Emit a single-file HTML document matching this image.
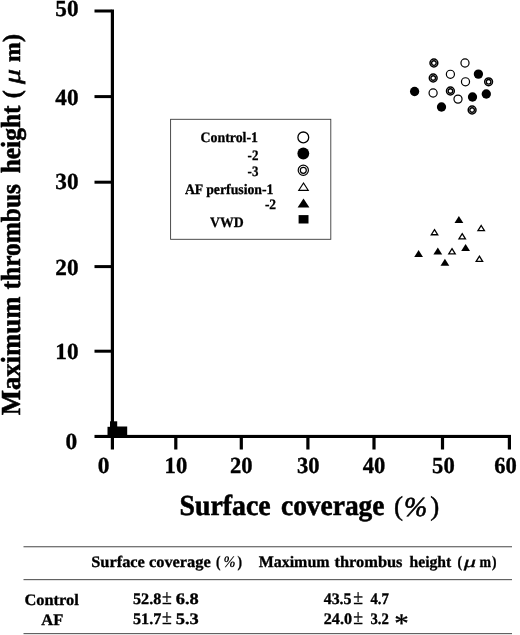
<!DOCTYPE html>
<html lang="en"><head><meta charset="utf-8"><title>Figure</title>
<style>html,body{margin:0;padding:0;background:#fff}body{width:520px;height:635px;overflow:hidden}svg{display:block}text{text-rendering:geometricPrecision}</style>
</head><body>
<svg width="520" height="635" viewBox="0 0 520 635">
<rect width="520" height="635" fill="#fff"/>
<g fill="#000">
<rect x="110.8" y="9.5" width="3.2" height="440"/>
<rect x="94.5" y="434.9" width="416.5" height="3.1"/>
<rect x="94.5" y="9.5" width="17" height="3"/>
<rect x="94.5" y="95.1" width="17" height="3"/>
<rect x="94.5" y="180.7" width="17" height="3"/>
<rect x="94.5" y="265.1" width="17" height="3"/>
<rect x="94.5" y="349.7" width="17" height="3"/>
<rect x="174.2" y="436" width="3.2" height="13.5"/>
<rect x="239.7" y="436" width="3.2" height="13.5"/>
<rect x="306.3" y="436" width="3.2" height="13.5"/>
<rect x="372.4" y="436" width="3.2" height="13.5"/>
<rect x="440.9" y="436" width="3.2" height="13.5"/>
<rect x="507.8" y="436" width="3.2" height="13.5"/>
</g>
<g font-family="'Liberation Serif', serif" font-weight="bold" font-size="23" fill="#000" stroke="#000" stroke-width="0.35">
<text x="55.3" y="16.4" textLength="23.2" lengthAdjust="spacingAndGlyphs">50</text>
<text x="55.3" y="105.2" textLength="23.2" lengthAdjust="spacingAndGlyphs">40</text>
<text x="55.3" y="189.1" textLength="23.2" lengthAdjust="spacingAndGlyphs">30</text>
<text x="55.3" y="275.2" textLength="23.2" lengthAdjust="spacingAndGlyphs">20</text>
<text x="55.3" y="358.7" textLength="23.2" lengthAdjust="spacingAndGlyphs">10</text>
<text x="65.5" y="448.6" textLength="11.7" lengthAdjust="spacingAndGlyphs">0</text>
<text x="164.6" y="473.1" textLength="22.6" lengthAdjust="spacingAndGlyphs">10</text>
<text x="229.9" y="473.1" textLength="22.6" lengthAdjust="spacingAndGlyphs">20</text>
<text x="297.0" y="473.1" textLength="22.6" lengthAdjust="spacingAndGlyphs">30</text>
<text x="362.8" y="473.1" textLength="22.6" lengthAdjust="spacingAndGlyphs">40</text>
<text x="432.1" y="473.1" textLength="22.6" lengthAdjust="spacingAndGlyphs">50</text>
<text x="494.2" y="473.1" textLength="22.6" lengthAdjust="spacingAndGlyphs">60</text>
<text x="97.8" y="473.2" textLength="11.7" lengthAdjust="spacingAndGlyphs">0</text>
</g>
<g font-family="'Liberation Serif', serif" font-weight="bold" fill="#000" stroke="#000" stroke-width="0.55" transform="translate(19.9,0) rotate(-90)">
<text x="-415.3" y="0" font-size="27.5" textLength="118.7" lengthAdjust="spacingAndGlyphs">Maximum</text>
<text x="-289.4" y="0" font-size="27.5" textLength="105.4" lengthAdjust="spacingAndGlyphs">thrombus</text>
<text x="-173.3" y="0" font-size="27.5" textLength="67.8" lengthAdjust="spacingAndGlyphs">height</text>
<text x="-98.3" y="0" font-size="25" textLength="8.0" lengthAdjust="spacingAndGlyphs">(</text>
<text x="-62.0" y="0" font-size="23" textLength="19.7" lengthAdjust="spacingAndGlyphs">m</text>
<text x="-42.0" y="0" font-size="25" textLength="8.0" lengthAdjust="spacingAndGlyphs">)</text>
<text x="-84" y="0" font-size="24" font-weight="normal" font-style="italic" textLength="15" lengthAdjust="spacingAndGlyphs">μ</text>
</g>
<g font-family="'Liberation Serif', serif" font-weight="bold" fill="#000" font-size="29" stroke="#000" stroke-width="0.55">
<text x="179.6" y="515.3" textLength="91" lengthAdjust="spacingAndGlyphs">Surface</text>
<text x="281" y="515.3" textLength="103.5" lengthAdjust="spacingAndGlyphs">coverage</text>
<text x="394" y="515.3" font-size="27" font-weight="normal" stroke-width="0.5">(</text>
<text x="404" y="515.5" font-size="27.5" font-weight="normal" font-style="italic" stroke-width="0.6" textLength="23.2" lengthAdjust="spacingAndGlyphs">%</text>
<text x="430.2" y="515.3" font-size="27" font-weight="normal" stroke-width="0.5">)</text>
</g>
<circle cx="465" cy="63.0" r="4.050000000000001" fill="#fff" stroke="#000" stroke-width="1.2"/>
<circle cx="450.4" cy="74.3" r="4.050000000000001" fill="#fff" stroke="#000" stroke-width="1.2"/>
<circle cx="465.5" cy="81.8" r="4.050000000000001" fill="#fff" stroke="#000" stroke-width="1.2"/>
<circle cx="433.1" cy="93.0" r="4.050000000000001" fill="#fff" stroke="#000" stroke-width="1.2"/>
<circle cx="458" cy="99.1" r="4.050000000000001" fill="#fff" stroke="#000" stroke-width="1.2"/>
<circle cx="478.4" cy="74.1" r="4.65" fill="#000"/>
<circle cx="414.6" cy="91.5" r="4.65" fill="#000"/>
<circle cx="486.3" cy="94.0" r="4.65" fill="#000"/>
<circle cx="472.5" cy="97.0" r="4.65" fill="#000"/>
<circle cx="441.5" cy="107.0" r="4.65" fill="#000"/>
<circle cx="433.9" cy="63.0" r="3.9000000000000004" fill="#fff" stroke="#000" stroke-width="1.5"/><circle cx="433.9" cy="63.0" r="2.3000000000000003" fill="#fff" stroke="#000" stroke-width="1.35"/>
<circle cx="433.2" cy="78.0" r="3.9000000000000004" fill="#fff" stroke="#000" stroke-width="1.5"/><circle cx="433.2" cy="78.0" r="2.3000000000000003" fill="#fff" stroke="#000" stroke-width="1.35"/>
<circle cx="450.4" cy="91.0" r="3.9000000000000004" fill="#fff" stroke="#000" stroke-width="1.5"/><circle cx="450.4" cy="91.0" r="2.3000000000000003" fill="#fff" stroke="#000" stroke-width="1.35"/>
<circle cx="488.6" cy="81.8" r="3.9000000000000004" fill="#fff" stroke="#000" stroke-width="1.5"/><circle cx="488.6" cy="81.8" r="2.3000000000000003" fill="#fff" stroke="#000" stroke-width="1.35"/>
<circle cx="472.1" cy="110" r="3.9000000000000004" fill="#fff" stroke="#000" stroke-width="1.5"/><circle cx="472.1" cy="110" r="2.3000000000000003" fill="#fff" stroke="#000" stroke-width="1.35"/>
<polygon points="418.6,250.1 423.0,257.1 414.2,257.1" fill="#000"/>
<polygon points="437.8,247.4 442.2,254.4 433.4,254.4" fill="#000"/>
<polygon points="444.9,258.8 449.3,265.8 440.5,265.8" fill="#000"/>
<polygon points="458.9,215.9 463.3,222.9 454.5,222.9" fill="#000"/>
<polygon points="465.6,244.0 470.0,251.0 461.2,251.0" fill="#000"/>
<polygon points="434.5,229.6 437.73,234.75 431.27,234.75" fill="#fff" stroke="#000" stroke-width="1.3" stroke-linejoin="miter"/>
<polygon points="452.0,248.7 455.23,253.85 448.77,253.85" fill="#fff" stroke="#000" stroke-width="1.3" stroke-linejoin="miter"/>
<polygon points="481.2,225.5 484.43,230.65 477.97,230.65" fill="#fff" stroke="#000" stroke-width="1.3" stroke-linejoin="miter"/>
<polygon points="462.2,233.7 465.43,238.85 458.97,238.85" fill="#fff" stroke="#000" stroke-width="1.3" stroke-linejoin="miter"/>
<polygon points="479.4,256.2 482.63,261.35 476.17,261.35" fill="#fff" stroke="#000" stroke-width="1.3" stroke-linejoin="miter"/>
<g fill="#000"><rect x="110" y="421.3" width="7.2" height="8"/><rect x="107.5" y="426.8" width="10" height="8.5"/><rect x="117" y="426.5" width="10.2" height="9"/></g>
<rect x="170.6" y="119.3" width="160.2" height="120" fill="none" stroke="#3a3a3a" stroke-width="0.9"/>
<g font-family="'Liberation Serif', serif" font-weight="bold" fill="#000" font-size="14.4" stroke="#000" stroke-width="0.3">
<text x="200.5" y="141.7" textLength="57.5" lengthAdjust="spacingAndGlyphs">Control-1</text>
<text x="247.6" y="159.9" textLength="10.8" lengthAdjust="spacingAndGlyphs">-2</text>
<text x="247.6" y="176.3" textLength="10.8" lengthAdjust="spacingAndGlyphs">-3</text>
<text x="184.9" y="193.6" textLength="88.6" lengthAdjust="spacingAndGlyphs">AF perfusion-1</text>
<text x="264.9" y="208.9" textLength="11.2" lengthAdjust="spacingAndGlyphs">-2</text>
<text x="210" y="226.6" textLength="33.7" lengthAdjust="spacingAndGlyphs">VWD</text>
</g>
<circle cx="303.3" cy="137.4" r="5.4" fill="#fff" stroke="#000" stroke-width="1.3"/>
<circle cx="303.3" cy="153.5" r="5.9" fill="#000"/>
<circle cx="303.3" cy="170.3" r="5.1" fill="#fff" stroke="#000" stroke-width="1.2"/>
<circle cx="303.3" cy="170.3" r="3.0" fill="#fff" stroke="#000" stroke-width="1.2"/>
<polygon points="303.5,183.0 308.2,190.3 298.8,190.3" fill="#fff" stroke="#000" stroke-width="1.2"/>
<polygon points="303.5,198.4 309.4,207.5 297.6,207.5" fill="#000"/>
<rect x="298.6" y="215.1" width="9.9" height="8.4" fill="#000"/>
<g fill="#3c3c3c"><rect x="23.5" y="546.3" width="488.5" height="0.95"/><rect x="23.5" y="579.2" width="488.5" height="0.95"/><rect x="23.5" y="633.2" width="488.5" height="0.95"/></g>
<g font-family="'Liberation Serif', serif" font-weight="bold" fill="#000" font-size="16" stroke="#000" stroke-width="0.33">
<text x="91.25" y="566.8" textLength="119.50" lengthAdjust="spacingAndGlyphs">Surface coverage</text>
<text x="216" y="566.8" textLength="4.50" lengthAdjust="spacingAndGlyphs">(</text>
<text x="223.3" y="566.6" textLength="12.30" lengthAdjust="spacingAndGlyphs" font-style="italic" stroke-width="0">%</text>
<text x="237.5" y="566.8" textLength="4.50" lengthAdjust="spacingAndGlyphs">)</text>
<text x="258.75" y="566.8" textLength="70.75" lengthAdjust="spacingAndGlyphs">Maximum</text>
<text x="334.5" y="566.8" textLength="68.00" lengthAdjust="spacingAndGlyphs">thrombus</text>
<text x="409.5" y="566.8" textLength="41.80" lengthAdjust="spacingAndGlyphs">height</text>
<text x="457.5" y="566.8" textLength="4.50" lengthAdjust="spacingAndGlyphs">(</text>
<text x="463.7" y="566.8" textLength="12.30" lengthAdjust="spacingAndGlyphs" font-weight="normal" font-style="italic">μ</text>
<text x="479.6" y="566.8" textLength="11.50" lengthAdjust="spacingAndGlyphs">m</text>
<text x="492" y="566.8" textLength="4.50" lengthAdjust="spacingAndGlyphs">)</text>
<text x="24.5" y="604.6" textLength="54.25" lengthAdjust="spacingAndGlyphs">Control</text>
<text x="41.25" y="625" textLength="22.00" lengthAdjust="spacingAndGlyphs">AF</text>
<text x="133" y="604.2" textLength="28.25" lengthAdjust="spacingAndGlyphs">52.8</text>
<text x="161.9" y="604.2" font-size="21" font-weight="normal" stroke-width="0.3" textLength="9.8" lengthAdjust="spacingAndGlyphs">±</text>
<text x="175.75" y="604.2" textLength="23.00" lengthAdjust="spacingAndGlyphs">6.8</text>
<text x="133" y="623.5" textLength="28.25" lengthAdjust="spacingAndGlyphs">51.7</text>
<text x="161.9" y="623.5" font-size="21" font-weight="normal" stroke-width="0.3" textLength="9.8" lengthAdjust="spacingAndGlyphs">±</text>
<text x="175.75" y="623.5" textLength="23.00" lengthAdjust="spacingAndGlyphs">5.3</text>
<text x="323.75" y="604" textLength="27.75" lengthAdjust="spacingAndGlyphs">43.5</text>
<text x="353.3" y="604" font-size="21" font-weight="normal" stroke-width="0.3" textLength="9.8" lengthAdjust="spacingAndGlyphs">±</text>
<text x="370.5" y="604" textLength="18.40" lengthAdjust="spacingAndGlyphs">4.7</text>
<text x="323.75" y="623.7" textLength="28.25" lengthAdjust="spacingAndGlyphs">24.0</text>
<text x="353.3" y="623.7" font-size="21" font-weight="normal" stroke-width="0.3" textLength="9.8" lengthAdjust="spacingAndGlyphs">±</text>
<text x="370.5" y="623.7" textLength="18.40" lengthAdjust="spacingAndGlyphs">3.2</text>
<text x="394.2" y="632.3" font-size="27" font-weight="normal" stroke-width="0.3" textLength="14.5" lengthAdjust="spacingAndGlyphs">*</text>
</g>
</svg>
</body></html>
